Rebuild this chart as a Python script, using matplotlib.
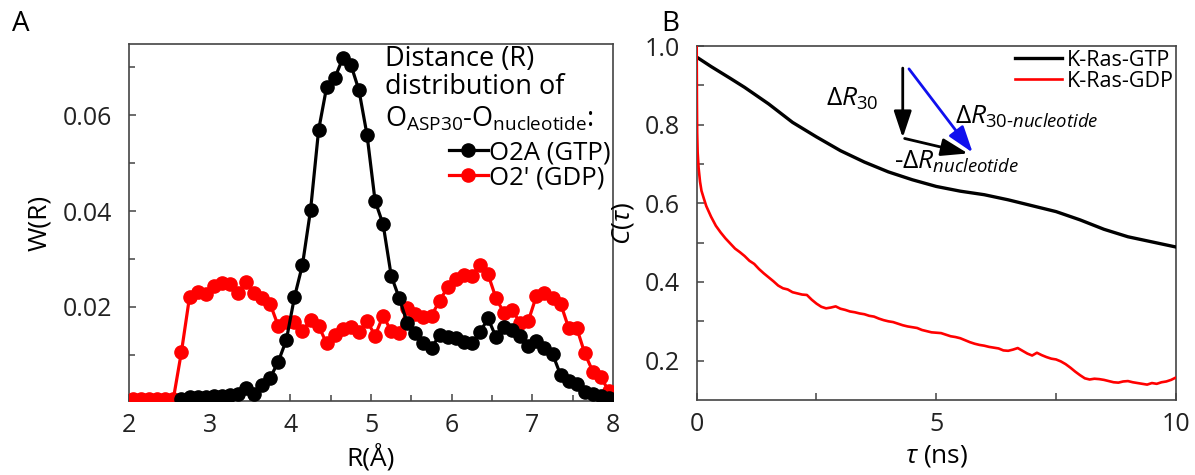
import numpy as np
import matplotlib.pyplot as plt
from matplotlib.ticker import MultipleLocator, FixedLocator

plt.rcParams['font.family'] = ['Open Sans', 'DejaVu Sans']
plt.rcParams['mathtext.fontset'] = 'custom'
plt.rcParams['mathtext.rm'] = 'Open Sans'
plt.rcParams['mathtext.it'] = 'Open Sans:italic'
plt.rcParams['mathtext.bf'] = 'Open Sans:bold'

# ---- panel A: O-O distance distributions (0.1 A bins)
r_gdp = [2.05, 2.15, 2.25, 2.35, 2.45, 2.55, 2.65, 2.75, 2.85, 2.95,
         3.05, 3.15, 3.25, 3.35, 3.45, 3.55, 3.65, 3.75, 3.85, 3.95,
         4.05, 4.15, 4.25, 4.35, 4.45, 4.55, 4.65, 4.75, 4.85, 4.95,
         5.05, 5.15, 5.25, 5.35, 5.45, 5.55, 5.65, 5.75, 5.85, 5.95,
         6.05, 6.15, 6.25, 6.35, 6.45, 6.55, 6.65, 6.75, 6.85, 6.95,
         7.05, 7.15, 7.25, 7.35, 7.45, 7.55, 7.65, 7.75, 7.85, 7.95]
w_gdp = [0.0008, 0.0008, 0.0008, 0.0008, 0.0008, 0.0009, 0.0107, 0.0221, 0.0232, 0.0226,
         0.0243, 0.0249, 0.0247, 0.0230, 0.0253, 0.0228, 0.0219, 0.0206, 0.0160, 0.0168,
         0.0168, 0.0150, 0.0173, 0.0160, 0.0124, 0.0141, 0.0154, 0.0159, 0.0147, 0.0171,
         0.0140, 0.0182, 0.0149, 0.0145, 0.0198, 0.0185, 0.0180, 0.0182, 0.0213, 0.0241,
         0.0258, 0.0267, 0.0265, 0.0288, 0.0268, 0.0218, 0.0187, 0.0194, 0.0166, 0.0171,
         0.0223, 0.0228, 0.0218, 0.0207, 0.0156, 0.0156, 0.0103, 0.0065, 0.0053, 0.0024]

r_gtp = r_gdp[6:]
w_gtp = [0.0009, 0.0012, 0.0013, 0.0013,
         0.0014, 0.0015, 0.0016, 0.0018, 0.0030, 0.0018, 0.0038, 0.0052, 0.0086, 0.0131,
         0.0220, 0.0288, 0.0402, 0.0569, 0.0659, 0.0677, 0.0719, 0.0705, 0.0652, 0.0559,
         0.0421, 0.0372, 0.0265, 0.0218, 0.0166, 0.0145, 0.0125, 0.0114, 0.0142, 0.0138,
         0.0136, 0.0126, 0.0124, 0.0147, 0.0176, 0.0137, 0.0159, 0.0152, 0.0140, 0.0118,
         0.0128, 0.0115, 0.0102, 0.0058, 0.0046, 0.0039, 0.0022, 0.0018, 0.0015, 0.0010]

# ---- panel B: vector autocorrelation C(tau)
tau_gtp = [0.0, 0.3, 0.7, 1.0, 1.5, 2.0, 2.5, 3.0, 3.5, 4.0, 4.5,
           5.0, 5.5, 6.0, 6.5, 7.0, 7.5, 8.0, 8.5, 9.0, 9.5, 10.0]
c_gtp = [0.972, 0.948, 0.918, 0.895, 0.853, 0.806, 0.769, 0.734, 0.705, 0.680, 0.660,
         0.643, 0.631, 0.622, 0.609, 0.594, 0.579, 0.558, 0.534, 0.515, 0.502, 0.489]

tau_gdp = [0.0, 0.005, 0.01, 0.02, 0.04, 0.07, 0.1, 0.15, 0.2,
           0.3, 0.4, 0.5, 0.6, 0.7, 0.8, 0.9, 1.0, 1.1, 1.2, 1.3, 1.4, 1.5, 1.6, 1.7, 1.8, 1.9,
           2.0, 2.1, 2.2, 2.3, 2.4, 2.5, 2.6, 2.7, 2.8, 2.9, 3.0, 3.1, 3.2, 3.3, 3.4, 3.5,
           3.6, 3.7, 3.8, 3.9, 4.0, 4.1, 4.2, 4.3, 4.4, 4.5, 4.6, 4.7, 4.8, 4.9, 5.0, 5.1,
           5.2, 5.3, 5.4, 5.5, 5.6, 5.7, 5.8, 5.9, 6.0, 6.1, 6.2, 6.3, 6.4, 6.5, 6.6, 6.7,
           6.8, 6.9, 7.0, 7.1, 7.2, 7.3, 7.4, 7.5, 7.6, 7.7, 7.8, 7.9, 8.0, 8.1, 8.2, 8.3,
           8.4, 8.5, 8.6, 8.7, 8.8, 8.9, 9.0, 9.1, 9.2, 9.3, 9.4, 9.5, 9.6, 9.7, 9.8, 9.9, 10.0]
c_gdp = [1.0, 0.86, 0.78, 0.73, 0.69, 0.655, 0.632, 0.612, 0.593,
         0.566, 0.543, 0.526, 0.511, 0.498, 0.485, 0.476, 0.466, 0.454, 0.446, 0.433, 0.422,
         0.412, 0.402, 0.391, 0.384, 0.381,
         0.374, 0.371, 0.368, 0.367, 0.355, 0.345, 0.337, 0.333, 0.335, 0.338, 0.332, 0.329,
         0.325, 0.323, 0.320, 0.318,
         0.314, 0.312, 0.307, 0.303, 0.300, 0.298, 0.294, 0.290, 0.287, 0.285, 0.283, 0.278,
         0.275, 0.272, 0.271, 0.270,
         0.266, 0.262, 0.260, 0.257, 0.252, 0.247, 0.243, 0.240, 0.238, 0.235, 0.233, 0.231,
         0.226, 0.225, 0.228, 0.232,
         0.225, 0.218, 0.213, 0.220, 0.214, 0.209, 0.205, 0.203, 0.198, 0.191, 0.182, 0.172,
         0.163, 0.155, 0.152, 0.154,
         0.153, 0.151, 0.148, 0.145, 0.144, 0.147, 0.148, 0.145, 0.143, 0.141, 0.139, 0.143,
         0.141, 0.145, 0.147, 0.151, 0.157]

fig = plt.figure(figsize=(11.95, 4.75), dpi=100)
axA = fig.add_axes([0.108, 0.156, 0.405, 0.751])
axB = fig.add_axes([0.583, 0.158, 0.401, 0.745])

spine_col = '#444444'
for ax in (axA, axB):
    for s in ax.spines.values():
        s.set_color(spine_col)
        s.set_linewidth(1.2)
    ax.tick_params(which='both', direction='in', top=False, right=False,
                   colors=spine_col, labelcolor='#222222', labelsize=18, width=1.1)
    ax.tick_params(which='major', length=5, pad=9)
    ax.tick_params(which='minor', length=4)
    ax.tick_params(axis='y', which='major', pad=12)

# panel A
axA.plot(r_gdp, w_gdp, '-o', color='red', lw=2.3, ms=9.5, label="O2' (GDP)", zorder=3)
axA.plot(r_gtp, w_gtp, '-o', color='black', lw=2.3, ms=9.5, label='O2A (GTP)', zorder=4)
axA.set_xlim(2, 8)
axA.set_ylim(0.0004, 0.0748)
axA.xaxis.set_major_locator(MultipleLocator(1))
axA.xaxis.set_minor_locator(MultipleLocator(0.5))
axA.yaxis.set_major_locator(FixedLocator([0.02, 0.04, 0.06]))
axA.yaxis.set_minor_locator(FixedLocator([0.01, 0.03, 0.05, 0.07]))
axA.set_xlabel('R(Å)', fontsize=19, labelpad=4)
axA.set_ylabel('W(R)', fontsize=19, labelpad=8)

axA.text(0.529, 0.938, 'Distance (R)', transform=axA.transAxes, fontsize=19.5, va='baseline')
axA.text(0.529, 0.860, 'distribution of', transform=axA.transAxes, fontsize=19.5, va='baseline')
axA.text(0.529, 0.768, r'O$_{\mathrm{ASP30}}$-O$_{\mathrm{nucleotide}}$:', transform=axA.transAxes,
         fontsize=19.5, va='baseline')
h, l = axA.get_legend_handles_labels()
axA.legend(h[::-1], l[::-1], loc='upper right', bbox_to_anchor=(0.995, 0.73), frameon=False,
           fontsize=18.5, handlelength=1.5, handletextpad=0.05, labelspacing=0.0,
           borderpad=0, borderaxespad=0)

# panel B
axB.plot(tau_gtp, c_gtp, color='black', lw=2.4, label='K-Ras-GTP', zorder=3)
axB.plot(tau_gdp, c_gdp, color='red', lw=1.9, label='K-Ras-GDP', zorder=3)
axB.set_xlim(0, 10)
axB.set_ylim(0.1, 1.0)
axB.xaxis.set_major_locator(MultipleLocator(5))
axB.xaxis.set_minor_locator(MultipleLocator(2.5))
axB.yaxis.set_major_locator(FixedLocator([0.2, 0.4, 0.6, 0.8, 1.0]))
axB.yaxis.set_minor_locator(FixedLocator([0.3, 0.5, 0.7, 0.9]))
axB.tick_params(which='minor', length=5)
axB.set_xlabel(r'$\mathit{τ}$ (ns)', fontsize=19, labelpad=4)
axB.set_ylabel(r'$\mathit{C}$($\mathit{τ}$)', fontsize=19, labelpad=6)
axB.legend(loc='upper right', bbox_to_anchor=(0.995, 0.99), frameon=False, fontsize=15.5,
           handlelength=2.2, handletextpad=0.2, labelspacing=0.0, borderpad=0, borderaxespad=0)

# vector sketch: dR30 - dR_nucleotide = dR30-nucleotide
arr = dict(arrowstyle='-|>,head_length=0.9,head_width=0.3', lw=2.0, mutation_scale=18,
           shrinkA=0, shrinkB=0)
axB.annotate('', xy=(4.30, 0.767), xytext=(4.30, 0.944), arrowprops=dict(arr, color='black'))
axB.annotate('', xy=(5.66, 0.727), xytext=(4.34, 0.765), arrowprops=dict(arr, color='black'))
axB.annotate('', xy=(5.76, 0.729), xytext=(4.43, 0.942), arrowprops=dict(arr, color='#1010ee'))
axB.text(2.70, 0.848, r'$\mathit{ΔR}_{\mathit{30}}$', fontsize=19, va='baseline')
axB.text(5.40, 0.803, r'$\mathit{ΔR}_{\mathit{30\text{-}nucleotide}}$', fontsize=19, va='baseline')
axB.text(4.12, 0.689, r'-$\mathit{ΔR}_{\mathit{nucleotide}}$', fontsize=19, va='baseline')

fig.text(0.010, 0.935, 'A', fontsize=20)
fig.text(0.553, 0.935, 'B', fontsize=20)

fig.savefig('out.png', dpi=100)
